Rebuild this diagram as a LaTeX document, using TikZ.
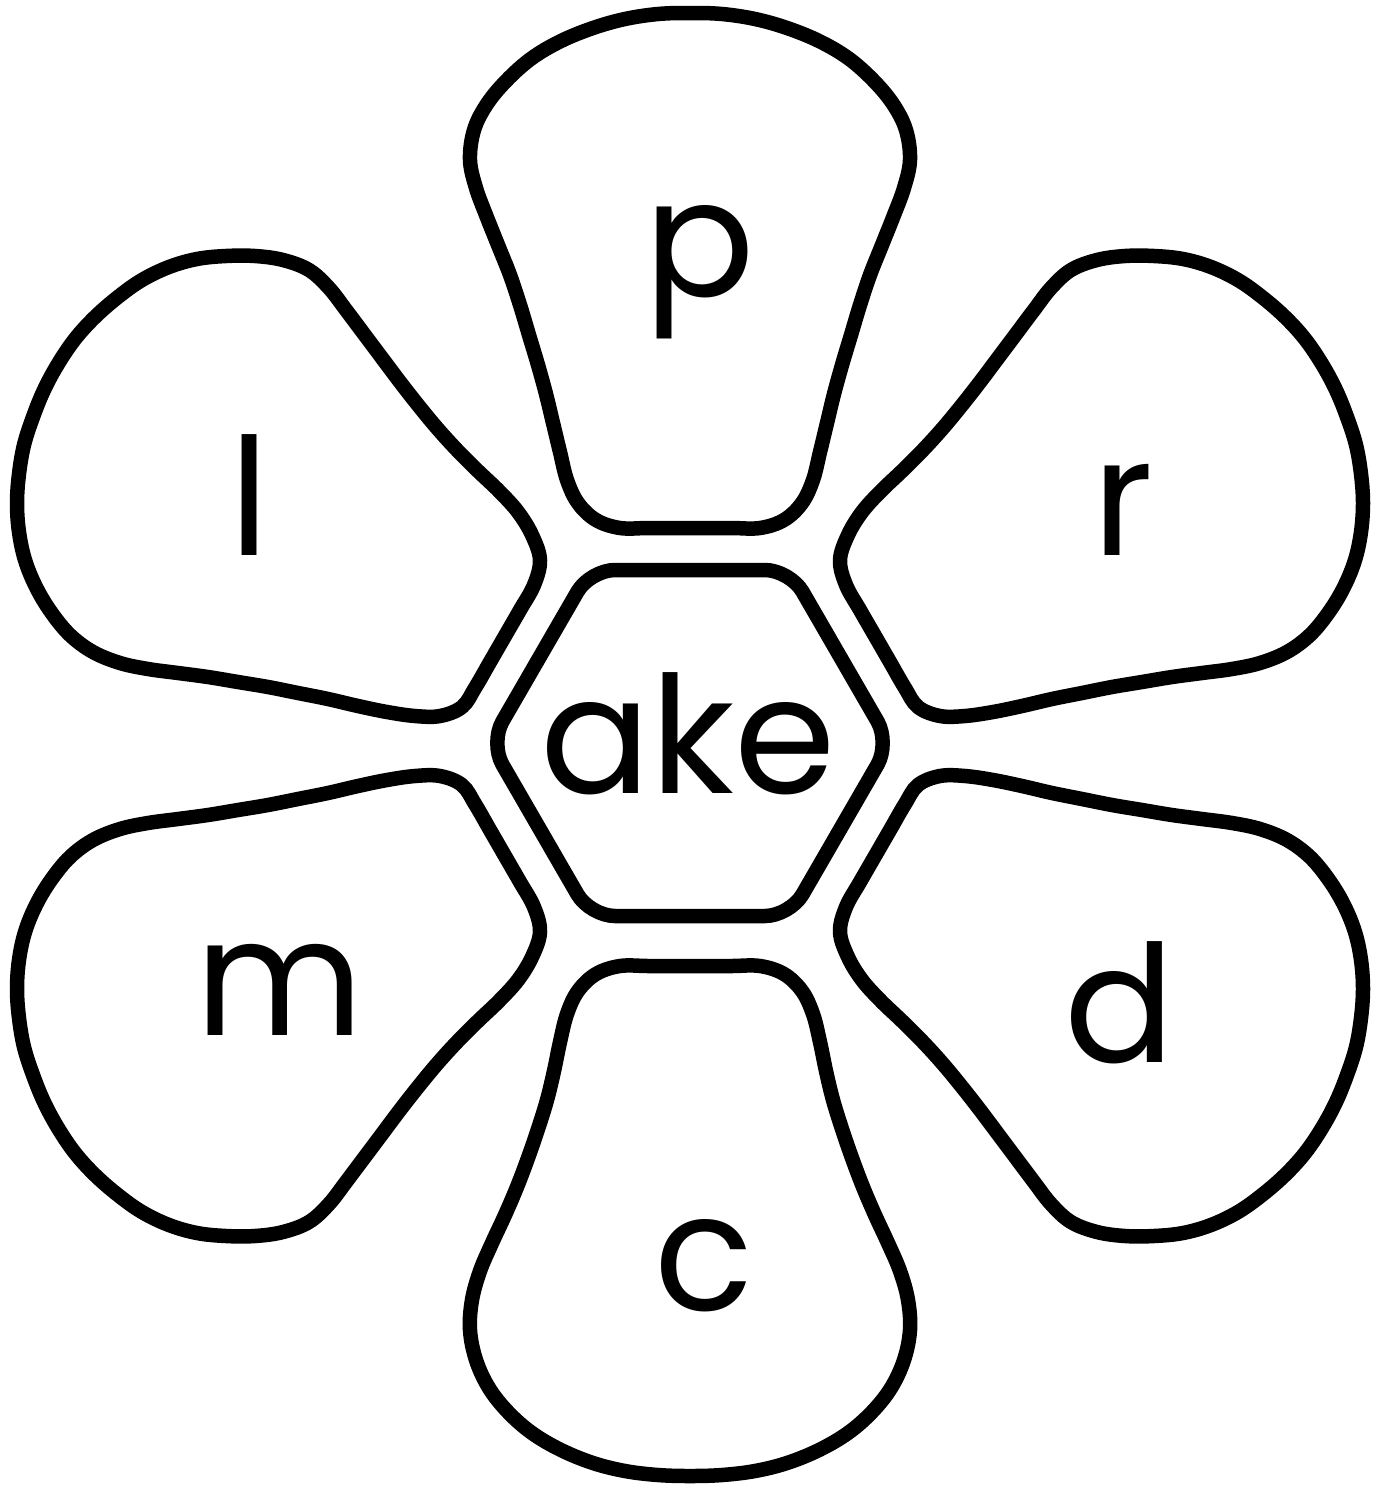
\documentclass[tikz,border=0pt]{standalone}
\usepackage{fontspec}
\setmainfont{Poppins}
\newcommand\sidepetal{%
\draw[petal] plot[smooth cycle,tension=0.6] coordinates {
 (840,560) (846,585) (860,610) (875,636) (890,662) (905,688) (918,707) (940,716)
 (965,716) (993,712) (1022,706) (1052,699) (1082,693) (1112,687) (1142,682)
 (1172,677) (1202,673) (1232,669) (1260,663) (1287,652) (1310,635) (1329,612)
 (1344,587) (1355,560) (1361,532) (1363,503) (1361,474) (1356,445) (1347,417)
 (1336,390) (1322,364) (1305,339) (1285,317) (1262,297) (1238,280) (1211,267)
 (1183,259) (1154,256) (1125,256) (1097,260) (1071,270) (1051,288) (1034,310)
 (1016,334) (998,358) (980,382) (962,405) (943,428) (923,450) (902,471)
 (881,491) (862,512) (848,535)};}
\begin{document}
\begin{tikzpicture}[x=0.02cm,y=-0.02cm,
  petal/.style={draw=black,line width=0.29cm,line join=round,fill=white},
  letter/.style={anchor=base,inner sep=0pt,font=\fontsize{93}{93}\selectfont}]
\useasboundingbox[fill=white] (0,0) rectangle (1382,1488);

% top petal (p)
\draw[petal] plot[smooth cycle,tension=0.6] coordinates {
 (620,528) (648,528) (676,528) (704,528) (732,528) (760,528) (784,520) (802,503)
 (813,480) (820,452) (827,423) (834,394) (842,365) (851,335) (860,305) (870,275)
 (882,245) (894,215) (904,188) (910,160) (906,130) (893,104) (873,80) (848,58)
 (819,41) (787,28) (755,19) (722,14) (690,13) (658,14) (625,19) (593,28) (561,41)
 (532,58) (507,80) (487,104) (474,130) (470,160) (476,188) (486,215) (498,245)
 (510,275) (520,305) (529,335) (538,365) (546,394) (553,423) (560,452) (567,480)
 (578,503) (596,520)};

% bottom petal (c)
\draw[petal] plot[smooth cycle,tension=0.6] coordinates {
 (620,966) (648,966) (676,966) (704,966) (732,966) (760,966) (784,974) (802,991)
 (813,1014) (820,1042) (826,1071) (833,1100) (842,1129) (852,1158) (863,1187)
 (875,1215) (888,1243) (900,1271) (908,1300) (910,1330) (904,1360) (891,1388)
 (872,1412) (848,1433) (819,1450) (787,1463) (755,1471) (722,1475) (690,1476)
 (658,1475) (625,1471) (593,1463) (561,1450) (532,1433) (508,1412) (489,1388)
 (476,1360) (470,1330) (472,1300) (480,1271) (492,1243) (505,1215) (517,1187)
 (528,1158) (538,1129) (547,1100) (554,1071) (560,1042) (567,1014) (578,991)
 (596,974)};

% upper right petal (r)
\sidepetal
% lower right petal (d)
\begin{scope}[shift={(0,1492)},yscale=-1]\sidepetal\end{scope}
% upper left petal (l)
\begin{scope}[shift={(1380,0)},xscale=-1]\sidepetal\end{scope}
% lower left petal (m)
\begin{scope}[shift={(1380,1492)},xscale=-1,yscale=-1]\sidepetal\end{scope}

% centre hexagon
\draw[petal,rounded corners=0.5cm] (690,570) -- (790,570) -- (890,743) -- (790,916)
  -- (590,916) -- (490,743) -- (590,570) -- cycle;

\node[letter] (ake) at (688,793) {ake};
\node[letter] (p) at (700,296) {p};
\node[letter] (r) at (1123,555) {r};
\node[letter] (d) at (1120,1062) {d};
\node[letter] (c) at (704,1310) {c};
\node[letter] (m) at (280,1035) {m};
\node[letter] (l) at (250,555) {l};
\end{tikzpicture}
\end{document}
